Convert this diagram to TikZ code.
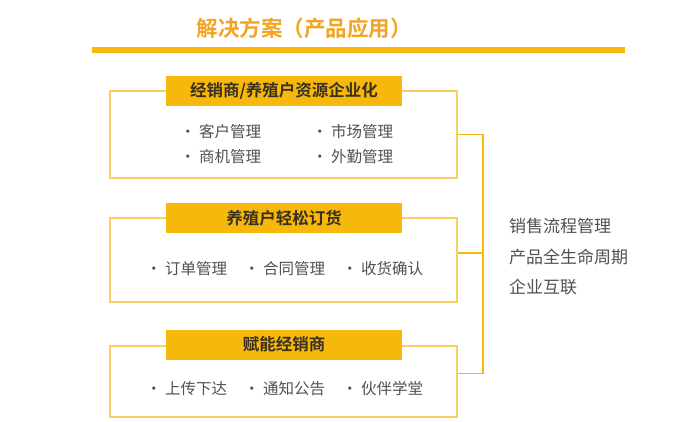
\documentclass[tikz,border=0pt]{standalone}
\usepackage{fontspec}
\newfontfamily\cjk{Noto Sans CJK SC}
\newfontfamily\cjkbold{Noto Sans CJK SC Bold}
\usetikzlibrary{positioning}
\definecolor{gold}{HTML}{F7B80C}
\definecolor{framecol}{HTML}{F8D060}
\definecolor{titlecol}{HTML}{F2A425}
\definecolor{headtext}{HTML}{3A3020}
\definecolor{itemtext}{HTML}{505050}

\begin{document}
\begin{tikzpicture}[x=1pt, y=-1pt, inner sep=0pt,
   head/.style={fill=gold, minimum width=236pt, minimum height=30pt,
     font=\cjkbold\fontsize{16.5}{16.5}\selectfont, text=headtext},
   frame/.style={draw=framecol, line width=1.2pt, minimum width=347pt},
   item/.style={anchor=west, font=\cjk\fontsize{15.5}{15.5}\selectfont, text=itemtext},
   side/.style={anchor=west, font=\cjk\fontsize{17}{17}\selectfont, text=itemtext},
   link/.style={draw=gold, line width=1.6pt}
   ]
   \useasboundingbox (0,0) rectangle (696,422);

   \node[font=\cjkbold\fontsize{21.5}{21.5}\selectfont, text=titlecol] (title) at (304,28) {解决方案（产品应用）};
   \fill[gold] (92,47) rectangle (625,53);

   \node[frame, minimum height=87pt] (box1) at (283.5,134.5) {};
   \node[frame, minimum height=84pt] (box2) at (283.5,260) {};
   \node[frame, minimum height=71pt] (box3) at (283.5,381.5) {};

   \node[head] (head1) at (284,91) {经销商/养殖户资源企业化};
   \node[head] (head2) at (284,218) {养殖户轻松订货};
   \node[head] (head3) at (284,344.5) {赋能经销商};

   \node[item] (kehu) at (180,132) {•\ 客户管理};
   \node[item] (shichang) at (312,132) {•\ 市场管理};
   \node[item] (shangji) at (180,157) {•\ 商机管理};
   \node[item] (waiqin) at (312,157) {•\ 外勤管理};

   \node[item] (dingdan) at (146,269) {•\ 订单管理};
   \node[item] (hetong) at (244,269) {•\ 合同管理};
   \node[item] (shouhuo) at (342,269) {•\ 收货确认};

   \node[item] (shangchuan) at (146,389) {•\ 上传下达};
   \node[item] (tongzhi) at (244,389) {•\ 通知公告};
   \node[item] (huoban) at (342,389) {•\ 伙伴学堂};

   \node[side] (xiaoshou) at (509,226) {销售流程管理};
   \node[side] (chanpin) at (509,257) {产品全生命周期};
   \node[side] (hulian) at (509,287) {企业互联};

   \coordinate (trunk) at (483,0);
   \draw[link] (box1.east) -- (box1.east -| trunk) |- ([yshift=8pt]box3.east);
   \draw[link] ([yshift=7pt]box2.east) -- ([yshift=7pt]box2.east -| trunk);
\end{tikzpicture}
\end{document}
